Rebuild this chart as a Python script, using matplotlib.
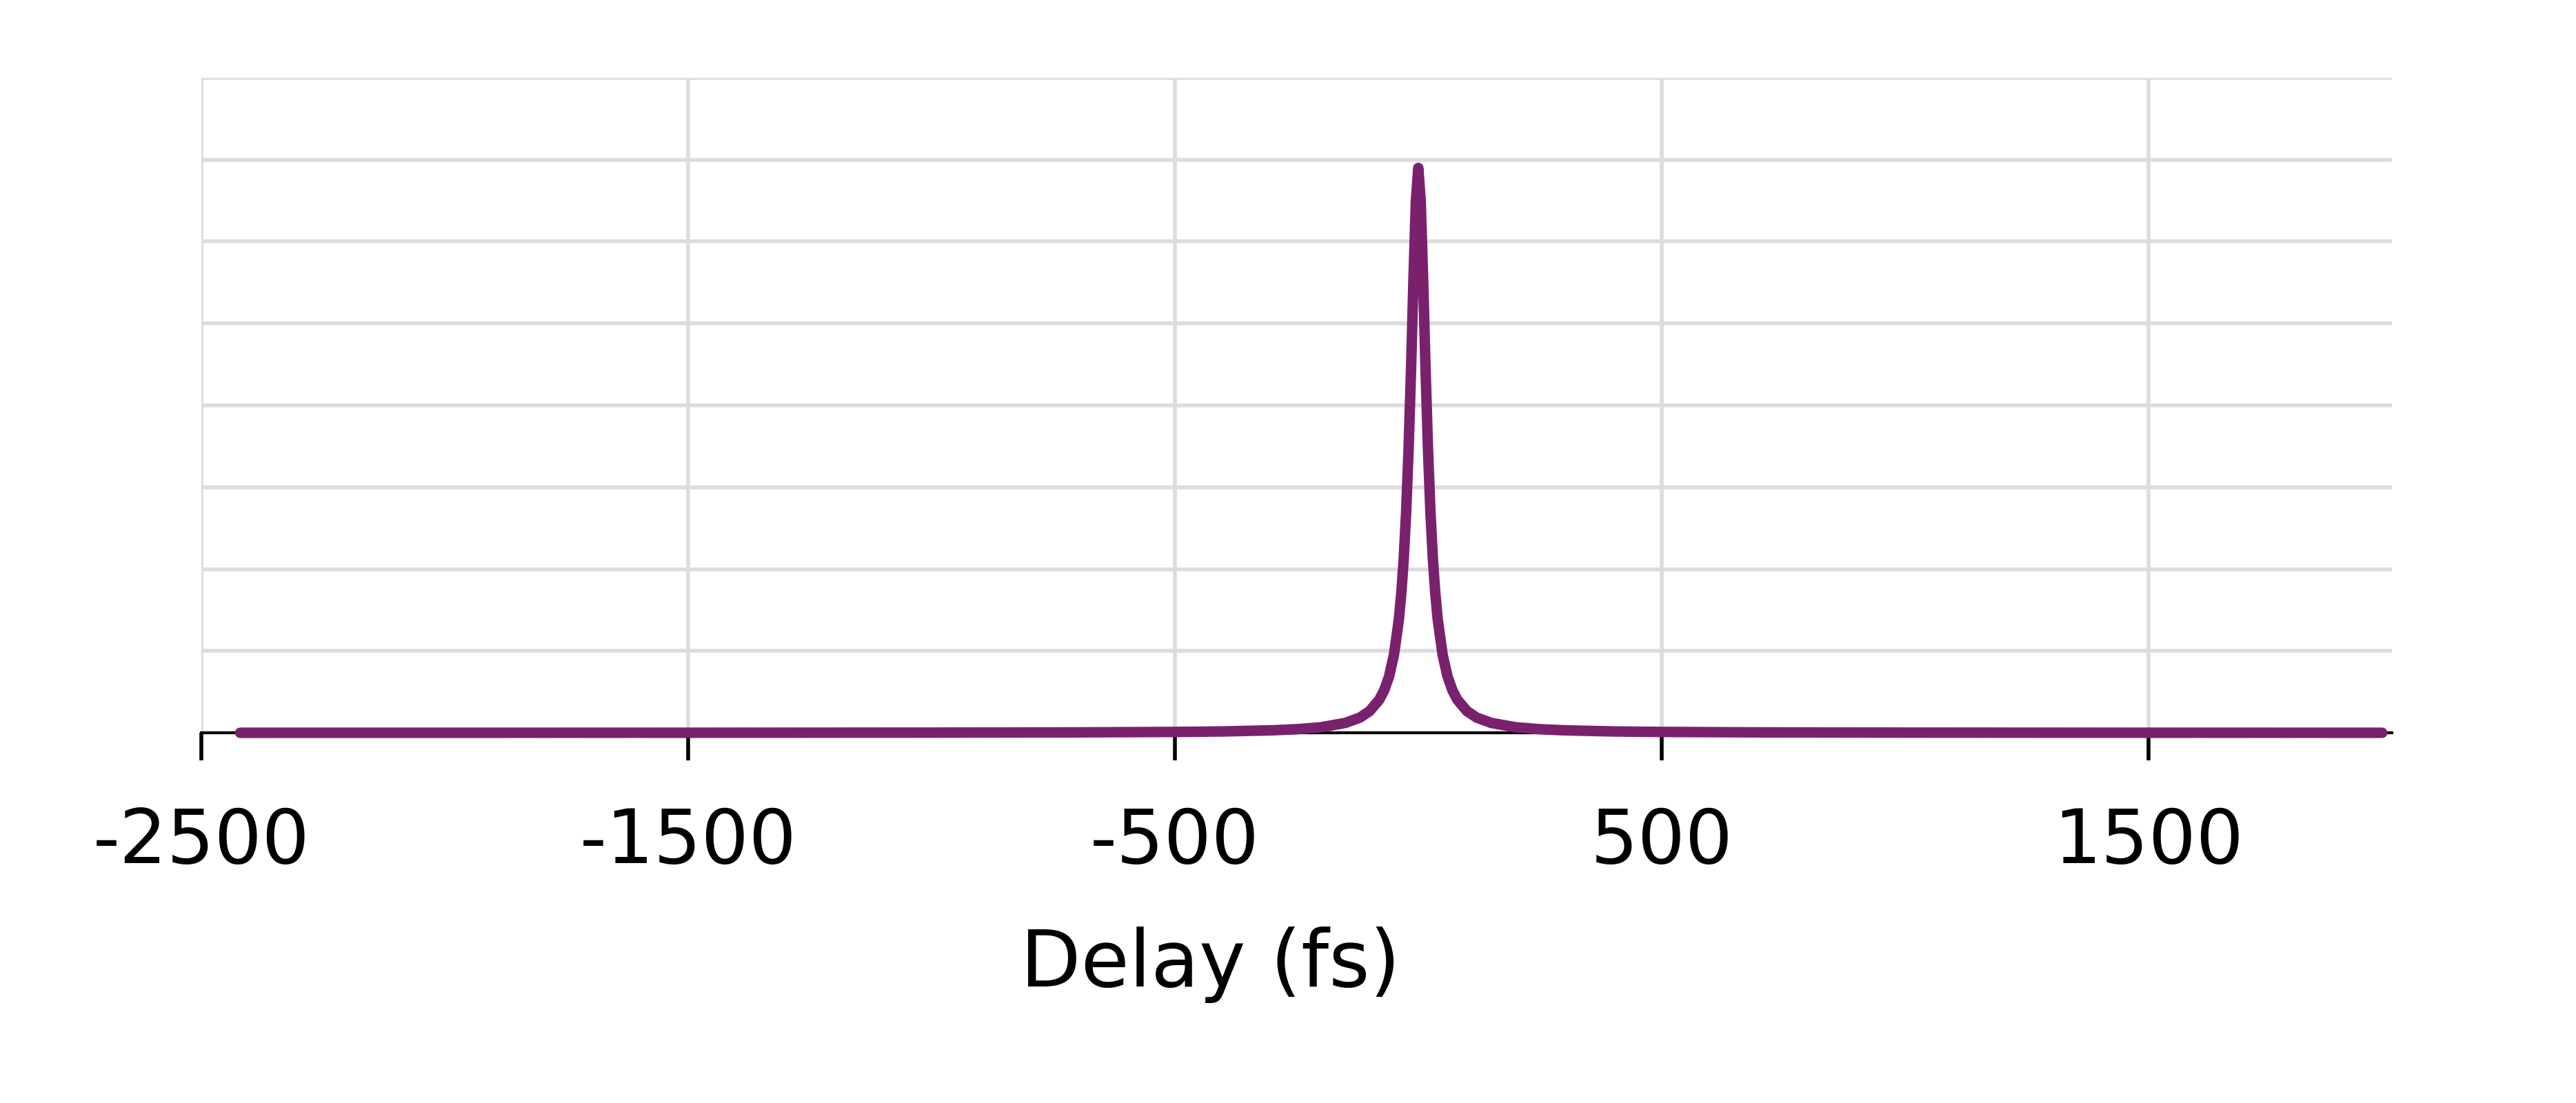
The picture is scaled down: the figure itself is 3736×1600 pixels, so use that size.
import matplotlib
matplotlib.use("Agg")
import matplotlib.pyplot as plt

# Data (delay in fs, signal in arbitrary units)
delay_fs = [-2420, -2000, -1500, -1000, -700, -500, -400, -300, -250, -200, -150,
            -120, -100, -80, -70, -60, -50, -40, -35, -30, -25, -20, -15, -10, -5,
            0, 5, 10, 15, 20, 25, 30, 35, 40, 50, 60, 70, 80, 100, 120, 150, 200,
            250, 300, 400, 500, 700, 1000, 1500, 1980]
signal = [0.0005, 0.0007, 0.0012, 0.0028, 0.0056, 0.011, 0.017, 0.031, 0.044, 0.068,
          0.121, 0.186, 0.265, 0.406, 0.521, 0.69, 0.952, 1.38, 1.70, 2.12, 2.69,
          3.45, 4.42, 5.52, 6.49, 6.9, 6.49, 5.52, 4.42, 3.45, 2.69, 2.12, 1.70,
          1.38, 0.952, 0.69, 0.521, 0.406, 0.265, 0.186, 0.121, 0.068, 0.044,
          0.031, 0.017, 0.011, 0.0056, 0.0028, 0.0012, 0.0007]
x_ticks = [-2500, -1500, -500, 500, 1500]
x_label = "Delay (fs)"

plt.rcParams['font.family'] = ['DejaVu Sans']
plt.rcParams['axes.unicode_minus'] = False

fig = plt.figure(figsize=(37.37, 16), dpi=100)
ax = fig.add_axes([0.0781, 0.3356, 0.9283 - 0.0781, 0.9294 - 0.3356])

grid_c = '#dcdcdc'
ax.set_xlim(-2500, 2000)
ax.set_ylim(0, 8)
ax.set_yticks(range(0, 9))
ax.set_xticks(x_ticks)
ax.grid(True, color=grid_c, linewidth=4.0, zorder=0)
ax.set_axisbelow(True)

for s in ['left', 'right', 'top']:
    ax.spines[s].set_visible(False)
ax.spines['bottom'].set_color('black')
ax.spines['bottom'].set_linewidth(3)
ax.spines['bottom'].set_zorder(1)

ax.tick_params(axis='y', left=False, labelleft=False)
ax.tick_params(axis='x', direction='out', length=29, width=4, color='black',
               labelsize=78, pad=47, labelcolor='black')

ax.plot(delay_fs, signal, color='#7a216e', linewidth=11,
        solid_capstyle='round', solid_joinstyle='round', zorder=3, clip_on=False)

ax.set_xlabel(x_label, fontsize=82)
ax.xaxis.set_label_coords(0.4605, -0.296)
ax.xaxis.label.set_verticalalignment('top')

fig.savefig("out.png", dpi=100, facecolor='white')
